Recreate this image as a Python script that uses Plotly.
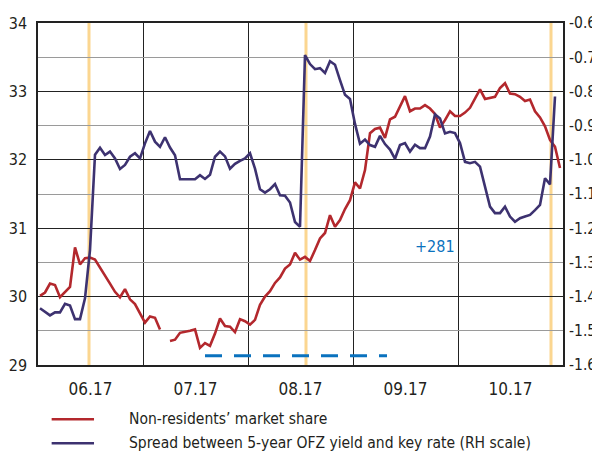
import plotly.graph_objects as go

# ---------------- data ----------------
month_labels = ["06.17", "07.17", "08.17", "09.17", "10.17"]
month_centers = [10.1, 31.1, 52.1, 73.1, 94.1]      # trading-day index of month middles
month_bounds = [20.6, 41.6, 62.6, 83.6]             # trading-day index of month boundaries
day_index = list(range(105))                          # trading days, June-October 2017

nonres_share = [
    30.01, 30.06, 30.19, 30.17, 29.99, 30.07, 30.14, 30.72, 30.47, 30.56,
    30.57, 30.54, 30.43, 30.31, 30.19, 30.07, 29.99, 30.11, 29.96, 29.89,
    29.75, 29.62, 29.71, 29.69, 29.52, None, 29.35, 29.37, 29.47, 29.48,
    29.50, 29.52, 29.25, 29.32, 29.28, 29.46, 29.68, 29.57, 29.56, 29.48,
    29.67, 29.64, 29.59, 29.66, 29.88, 30.00, 30.08, 30.20, 30.28, 30.41,
    30.47, 30.64, 30.54, 30.58, 30.52, 30.68, 30.85, 30.93, 31.19, 31.02,
    31.12, 31.28, 31.41, 31.67, 31.58, 31.85, 32.39, 32.45, 32.47, 32.32,
    32.59, 32.63, 32.78, 32.93, 32.71, 32.75, 32.75, 32.80, 32.75, 32.67,
    32.47, 32.58, 32.71, 32.64, 32.64, 32.69, 32.76, 32.90, 33.03, 32.89,
    32.91, 32.92, 33.05, 33.12, 32.97, 32.96, 32.92, 32.86, 32.88, 32.71,
    32.62, 32.49, 32.29, 32.19, 31.88,
]

spread = [
    -1.434, -1.444, -1.455, -1.446, -1.446, -1.421, -1.426, -1.466, -1.466, -1.405,
    -1.264, -0.985, -0.965, -0.986, -0.976, -0.996, -1.027, -1.015, -0.991, -0.981,
    -0.996, -0.952, -0.916, -0.947, -0.962, -0.934, -0.964, -0.987, -1.057, -1.057,
    -1.057, -1.057, -1.045, -1.056, -1.044, -0.991, -0.976, -0.990, -1.026, -1.012,
    -1.003, -0.996, -0.981, -1.026, -1.086, -1.096, -1.086, -1.071, -1.104, -1.105,
    -1.125, -1.182, -1.196, -0.694, -0.720, -0.735, -0.732, -0.746, -0.712, -0.722,
    -0.767, -0.810, -0.822, -0.895, -0.953, -0.941, -0.957, -0.962, -0.930, -0.954,
    -0.970, -0.997, -0.957, -0.951, -0.976, -0.956, -0.966, -0.966, -0.932, -0.867,
    -0.879, -0.923, -0.918, -0.922, -0.951, -1.006, -1.010, -1.006, -1.020, -1.079,
    -1.137, -1.156, -1.156, -1.137, -1.166, -1.181, -1.171, -1.166, -1.161, -1.147,
    -1.132, -1.054, -1.072, -0.815, None,
]

event_days = [9.8, 53.2, 102.2]          # vertical marker lines
dash_start, dash_end, dash_level = 33.0, 69.4, 29.136
note_text, note_day, note_level = "+281", 79.0, 30.73

left_ticks = [29, 30, 31, 32, 33, 34]
right_ticks = [-1.6, -1.5, -1.4, -1.3, -1.2, -1.1, -1.0, -0.9, -0.8, -0.7, -0.6]
right_ticktext = ["-1.6", "-1.5", "-1.4", "-1.3", "-1.2", "-1.1", "-1.0", "-0.9", "-0.8", "-0.7", "-0.6"]

series_names = ["Non-residents\u2019 market share",
                "Spread between 5-year OFZ yield and key rate (RH scale)"]

# ---------------- style ----------------
FONT = "DejaVu Sans Condensed, Liberation Sans Narrow, Arial Narrow, sans-serif"
RED = "#B3282D"
PURPLE = "#3D3270"
YELLOW = "#FBD690"
BLUE = "#0A72BE"
TXT = "#231F20"

fig = go.Figure()
fig.add_trace(go.Scatter(x=day_index, y=nonres_share, mode="lines", name=series_names[0],
                         line=dict(color=RED, width=2.6), connectgaps=False, yaxis="y"))
fig.add_trace(go.Scatter(x=day_index, y=spread, mode="lines", name=series_names[1],
                         line=dict(color=PURPLE, width=2.6), connectgaps=False, yaxis="y2"))

shapes = []
for d in event_days:
    shapes.append(dict(type="line", xref="x", yref="paper", x0=d, x1=d, y0=0, y1=1,
                       line=dict(color=YELLOW, width=3), layer="between"))
shapes.append(dict(type="line", xref="x", yref="y", x0=dash_start, x1=dash_end,
                   y0=dash_level, y1=dash_level,
                   line=dict(color=BLUE, width=3, dash="17px,12px"), layer="above"))

# custom legend
leg_y = [-0.1588, -0.2289]
for name, col, ly in zip(series_names, [RED, PURPLE], leg_y):
    shapes.append(dict(type="line", xref="paper", yref="paper", x0=0.026, x1=0.1067,
                       y0=ly, y1=ly, line=dict(color=col, width=2.5)))

annotations = [dict(x=note_day, y=note_level, xref="x", yref="y", text=note_text,
                    showarrow=False, font=dict(family=FONT, size=16, color=BLUE))]
for name, ly in zip(series_names, leg_y):
    annotations.append(dict(x=0.17, y=ly, xref="paper", yref="paper", text=name,
                            showarrow=False, xanchor="left", yanchor="middle",
                            font=dict(family=FONT, size=15.5, color=TXT)))

# the page body has an 8px default margin, so the figure is 8px smaller
fig.update_layout(
    width=592, height=447,
    margin=dict(l=30, r=37, t=15, b=90),
    paper_bgcolor="white", plot_bgcolor="white",
    showlegend=False,
    font=dict(family=FONT, size=17, color=TXT),
    xaxis=dict(range=[-0.4, 104.6], tickmode="array", tickvals=month_centers,
               ticktext=month_labels, showgrid=False, zeroline=False, automargin=False,
               showline=True, linecolor="#222", linewidth=1.5, mirror=True,
               ticks="", ticklabelstandoff=8,
               minor=dict(tickmode="array", tickvals=month_bounds, showgrid=True,
                          gridcolor="#222", gridwidth=1.3, ticks="")),
    yaxis=dict(range=[29, 34], tickmode="array", tickvals=left_ticks, automargin=False,
               showgrid=True, gridcolor="#222", gridwidth=1.3, zeroline=False,
               showline=True, linecolor="#222", linewidth=1.5, mirror=True,
               ticks="", ticklabelstandoff=6, tickfont=dict(size=16),
               minor=dict(dtick=0.5, showgrid=True, gridcolor="#9A9A9A", gridwidth=1.3, ticks="")),
    yaxis2=dict(range=[-1.6, -0.6], overlaying="y", side="right", tickmode="array",
                tickvals=right_ticks, ticktext=right_ticktext, showgrid=False, automargin=False,
                zeroline=False, ticks="", ticklabelstandoff=5, tickfont=dict(size=15.5)),
    shapes=shapes,
    annotations=annotations,
)

fig.write_html("out.html")
